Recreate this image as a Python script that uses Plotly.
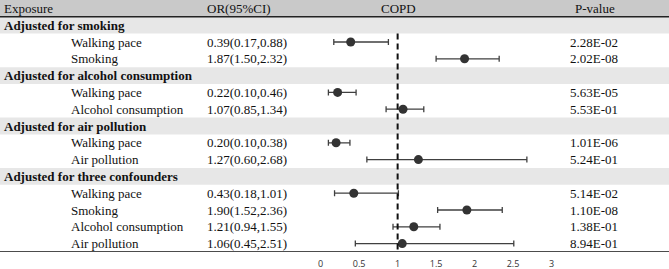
import plotly.graph_objects as go

# ---- data ----
groups = ["Adjusted for smoking", "Adjusted for alcohol consumption",
          "Adjusted for air pollution", "Adjusted for three confounders"]
exposures = [["Walking pace", "Smoking"],
             ["Walking pace", "Alcohol consumption"],
             ["Walking pace", "Air pollution"],
             ["Walking pace", "Smoking", "Alcohol consumption", "Air pollution"]]
or_vals = [0.39, 1.87, 0.22, 1.07, 0.20, 1.27, 0.43, 1.90, 1.21, 1.06]
ci_low = [0.17, 1.50, 0.10, 0.85, 0.10, 0.60, 0.18, 1.52, 0.94, 0.45]
ci_high = [0.88, 2.32, 0.46, 1.34, 0.38, 2.68, 1.01, 2.36, 1.55, 2.51]
p_values = ["2.28E-02", "2.02E-08", "5.63E-05", "5.53E-01", "1.01E-06",
            "5.24E-01", "5.14E-02", "1.10E-08", "1.38E-01", "8.94E-01"]
headers = ["Exposure", "OR(95%CI)", "COPD", "P-value"]
tick_vals = [0, 0.5, 1, 1.5, 2, 2.5, 3]
tick_text = ["0", "0.5", "1", "1.5", "2", "2.5", "3"]

W, H = 669, 269
FONT = "Liberation Serif"
FS = 13
TXT = "#111111"

# build row layout
group_rows = []
data_rows = []
data_labels = []
r = 1
for g, exps in zip(groups, exposures):
    group_rows.append(r)
    r += 1
    for e in exps:
        data_rows.append(r)
        data_labels.append(e)
        r += 1
n_rows = r

px_per_unit = 76.93
x0_px = 320.7
xr = [-x0_px / px_per_unit, (W - x0_px) / px_per_unit]

fig = go.Figure()

shapes = []
shapes.append(dict(type="rect", xref="paper", yref="y", x0=0, x1=1, y0=-0.5, y1=0.5,
                   fillcolor="#c9c9c9", line_width=0, layer="below"))
for gr in group_rows:
    shapes.append(dict(type="rect", xref="paper", yref="y", x0=0, x1=1, y0=gr - 0.5, y1=gr + 0.5,
                       fillcolor="#e7e7e7", line_width=0, layer="below"))
shapes.append(dict(type="line", xref="paper", yref="y", x0=0, x1=1, y0=0.5, y1=0.5,
                   line=dict(color="#222222", width=1.5)))
shapes.append(dict(type="line", xref="paper", yref="y", x0=0, x1=1, y0=n_rows - 0.5, y1=n_rows - 0.5,
                   line=dict(color="#111111", width=1.5)))
shapes.append(dict(type="line", xref="x", yref="y", x0=1, x1=1, y0=1.5, y1=n_rows - 0.5,
                   line=dict(color="#111111", width=2, dash="6px,4px")))

fig.add_trace(go.Scatter(
    x=or_vals, y=data_rows, mode="markers",
    marker=dict(size=9, color="#333333"),
    error_x=dict(type="data", symmetric=False,
                 array=[h - o for h, o in zip(ci_high, or_vals)],
                 arrayminus=[o - l for o, l in zip(or_vals, ci_low)],
                 color="#404040", thickness=1.3, width=3),
    showlegend=False, hoverinfo="skip"))

ann = []
def t(text, xpx, row, anchor="left", bold=False):
    ann.append(dict(text=f"<b>{text}</b>" if bold else text, xref="paper", yref="y",
                    x=xpx / W, y=row, xanchor=anchor, yanchor="middle", showarrow=False,
                    font=dict(family=FONT, size=FS, color=TXT)))

t(headers[0], 2, 0)
t(headers[1], 205, 0)
t(headers[2], 398, 0, "center")
t(headers[3], 595, 0, "center")
for g, gr in zip(groups, group_rows):
    t(g, 2, gr, bold=True)
for i, (row, lab) in enumerate(zip(data_rows, data_labels)):
    t(lab, 69, row)
    t(f"{or_vals[i]:.2f}({ci_low[i]:.2f},{ci_high[i]:.2f})", 205, row)
    t(p_values[i], 594, row, "center")

fig.update_layout(
    width=W, height=H, margin=dict(l=0, r=0, t=0, b=17),
    plot_bgcolor="white", paper_bgcolor="white",
    shapes=shapes, annotations=ann,
    xaxis=dict(range=xr, tickvals=tick_vals, ticktext=tick_text, showgrid=False,
               zeroline=False, showline=False, ticks="", ticklabelstandoff=5,
               tickfont=dict(family="Open Sans", size=9, color="#333333")),
    yaxis=dict(range=[n_rows - 0.5, -0.5], visible=False, showgrid=False, zeroline=False),
)

fig.write_html("out.html", config={"displayModeBar": False},
               post_script="document.body.style.margin='0';document.body.style.padding='0';")
